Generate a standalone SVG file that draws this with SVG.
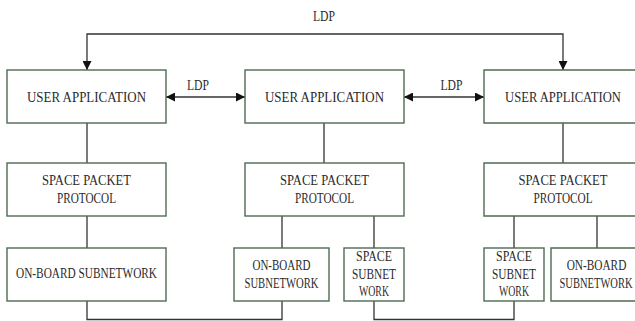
<svg xmlns="http://www.w3.org/2000/svg" width="635" height="321" viewBox="0 0 635 321">
  <style>
    .box { fill: #ffffff; stroke: #4d6b52; stroke-width: 1.4; }
    .lbl { font-family: "Liberation Serif", "Times New Roman", serif; font-size: 15.5px; fill: #2a2a2a; text-anchor: middle; }
    .wire { fill: none; stroke: #333333; stroke-width: 1.3; }
  </style>
  <defs>
    <marker id="arrow" viewBox="0 0 10 10" refX="10" refY="5" markerWidth="9" markerHeight="9" markerUnits="userSpaceOnUse" orient="auto-start-reverse">
      <path d="M0,0 L10,5 L0,10 z" fill="#111111"/>
    </marker>
  </defs>
  <rect width="635" height="321" fill="#ffffff"/>

  <g id="connectors">
    <!-- LDP links between user applications -->
    <polyline class="wire" points="87,70 87,34 563,34 563,70" marker-start="url(#arrow)" marker-end="url(#arrow)"/>
    <line class="wire" x1="166" y1="97" x2="245" y2="97" marker-start="url(#arrow)" marker-end="url(#arrow)"/>
    <line class="wire" x1="404" y1="97" x2="484" y2="97" marker-start="url(#arrow)" marker-end="url(#arrow)"/>
    <!-- stack links -->
    <line class="wire" x1="87" y1="123" x2="87" y2="163"/>
    <line class="wire" x1="324" y1="123" x2="324" y2="163"/>
    <line class="wire" x1="563" y1="123" x2="563" y2="163"/>
    <line class="wire" x1="87" y1="216" x2="87" y2="248"/>
    <line class="wire" x1="282" y1="216" x2="282" y2="248"/>
    <line class="wire" x1="374" y1="216" x2="374" y2="248"/>
    <line class="wire" x1="514" y1="216" x2="514" y2="248"/>
    <line class="wire" x1="597" y1="216" x2="597" y2="248"/>
    <!-- subnetwork links -->
    <polyline class="wire" points="87,301 87,319.5 282,319.5 282,301"/>
    <polyline class="wire" points="374,301 374,319.5 514,319.5 514,301"/>
  </g>

  <g id="ldp-labels">
    <text class="lbl" x="324" y="21" textLength="22" lengthAdjust="spacingAndGlyphs">LDP</text>
    <text class="lbl" x="198" y="90" textLength="22" lengthAdjust="spacingAndGlyphs">LDP</text>
    <text class="lbl" x="451.5" y="90" textLength="22" lengthAdjust="spacingAndGlyphs">LDP</text>
  </g>

  <g id="user-app-1">
    <rect class="box" x="7" y="70" width="159" height="53"/>
    <text class="lbl" x="86.5" y="102" textLength="119" lengthAdjust="spacingAndGlyphs">USER APPLICATION</text>
  </g>
  <g id="user-app-2">
    <rect class="box" x="245" y="70" width="159" height="53"/>
    <text class="lbl" x="324.5" y="102" textLength="119" lengthAdjust="spacingAndGlyphs">USER APPLICATION</text>
  </g>
  <g id="user-app-3">
    <!-- box runs on past the right margin, so only three sides are drawn -->
    <path class="box" d="M635,70 H484 V123 H635"/>
    <text class="lbl" transform="translate(563,102) scale(0.813,1)">USER APPLICATION</text>
  </g>

  <g id="spp-1">
    <rect class="box" x="7" y="163" width="159" height="53"/>
    <text class="lbl" x="86.5" y="185" textLength="89" lengthAdjust="spacingAndGlyphs">SPACE PACKET</text>
    <text class="lbl" x="86.5" y="203" textLength="59" lengthAdjust="spacingAndGlyphs">PROTOCOL</text>
  </g>
  <g id="spp-2">
    <rect class="box" x="245" y="163" width="159" height="53"/>
    <text class="lbl" x="324.5" y="185" textLength="89" lengthAdjust="spacingAndGlyphs">SPACE PACKET</text>
    <text class="lbl" x="324.5" y="203" textLength="59" lengthAdjust="spacingAndGlyphs">PROTOCOL</text>
  </g>
  <g id="spp-3">
    <path class="box" d="M635,163 H484 V216 H635"/>
    <text class="lbl" x="563" y="185" textLength="89" lengthAdjust="spacingAndGlyphs">SPACE PACKET</text>
    <text class="lbl" x="563" y="203" textLength="59" lengthAdjust="spacingAndGlyphs">PROTOCOL</text>
  </g>

  <g id="onboard-1">
    <rect class="box" x="7" y="248" width="159" height="53"/>
    <text class="lbl" x="86.5" y="278" textLength="141" lengthAdjust="spacingAndGlyphs">ON-BOARD SUBNETWORK</text>
  </g>
  <g id="onboard-2">
    <rect class="box" x="234" y="248" width="95" height="53"/>
    <text class="lbl" x="281.5" y="270" textLength="58" lengthAdjust="spacingAndGlyphs">ON-BOARD</text>
    <text class="lbl" x="281.5" y="288" textLength="74" lengthAdjust="spacingAndGlyphs">SUBNETWORK</text>
  </g>
  <g id="space-subnet-1">
    <rect class="box" x="344" y="248" width="60" height="53"/>
    <text class="lbl" x="374" y="261" textLength="36" lengthAdjust="spacingAndGlyphs">SPACE</text>
    <text class="lbl" x="374" y="279" textLength="44" lengthAdjust="spacingAndGlyphs">SUBNET</text>
    <text class="lbl" x="374" y="296" textLength="30" lengthAdjust="spacingAndGlyphs">WORK</text>
  </g>
  <g id="space-subnet-2">
    <rect class="box" x="484" y="248" width="60" height="53"/>
    <text class="lbl" x="514" y="261" textLength="36" lengthAdjust="spacingAndGlyphs">SPACE</text>
    <text class="lbl" x="514" y="279" textLength="44" lengthAdjust="spacingAndGlyphs">SUBNET</text>
    <text class="lbl" x="514" y="296" textLength="30" lengthAdjust="spacingAndGlyphs">WORK</text>
  </g>
  <g id="onboard-3">
    <path class="box" d="M635,248 H551 V301 H635"/>
    <text class="lbl" transform="translate(596.5,270) scale(0.73,1)">ON-BOARD</text>
    <text class="lbl" transform="translate(596,288) scale(0.678,1)">SUBNETWORK</text>
  </g>
</svg>
